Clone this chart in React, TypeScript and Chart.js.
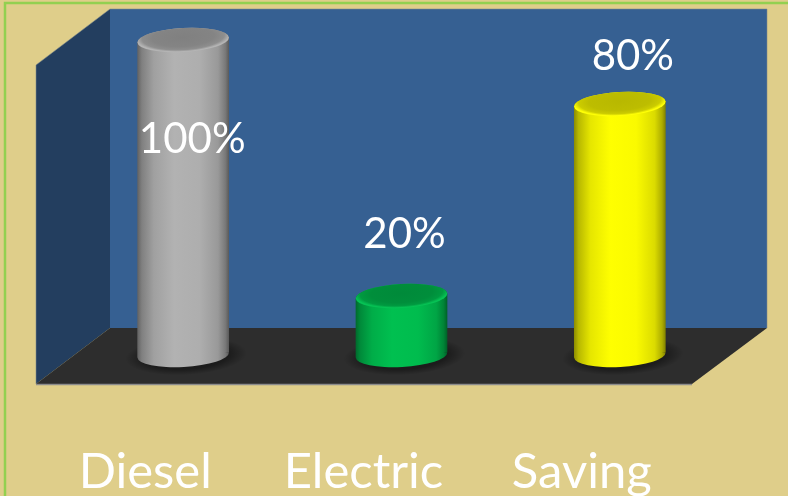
import React, { useEffect, useRef } from "react";
import { Chart, BarController, BarElement, CategoryScale, LinearScale } from "chart.js";

const categories = ["Diesel", "Electric", "Saving"];
const sharePercent = [100, 20, 80];
const barColors = ["#b2b2b2", "#00c050", "#ffff00"];

const PAGE_BG = "#dfce8a";
const FRAME = "#92d050";
const BACK_WALL = "#366092";
const SIDE_WALL = "#233e5f";
const FLOOR = "#2d2d2d";
const LABEL_FONT = "Lato";

const ROTATION = -0.055;
const END_RY = 12;
const BASE_LIFT = 5;

function shade(hex: string, k: number, add = 0) {
  const n = parseInt(hex.slice(1), 16);
  const c = [(n >> 16) & 255, (n >> 8) & 255, n & 255].map((v) =>
    Math.min(255, Math.round(v * k + add))
  );
  return `rgb(${c[0]},${c[1]},${c[2]})`;
}

class CylinderElement extends BarElement {
  static id = "cylinder";
  draw(ctx: CanvasRenderingContext2D) {
    const props = (this as any).getProps(["x", "y", "base", "width"]);
    const { x, y, width } = props;
    const base = props.base - BASE_LIFT;
    const color = (this as any).options.backgroundColor as string;
    const rx = width / 2;
    const d = 2.4;
    ctx.save();

    // soft contact shadow on the floor
    ctx.save();
    ctx.translate(x + 3, base + 1);
    ctx.rotate(ROTATION);
    ctx.scale(rx + 15, END_RY + 7);
    const sg = ctx.createRadialGradient(0, 0, 0, 0, 0, 1);
    sg.addColorStop(0, "rgba(0,0,0,0.42)");
    sg.addColorStop(0.7, "rgba(0,0,0,0.38)");
    sg.addColorStop(1, "rgba(0,0,0,0)");
    ctx.fillStyle = sg;
    ctx.beginPath();
    ctx.arc(0, 0, 1, 0, Math.PI * 2);
    ctx.fill();
    ctx.restore();

    // body
    const grad = ctx.createLinearGradient(x - rx, 0, x + rx, 0);
    grad.addColorStop(0, shade(color, 0.55));
    grad.addColorStop(0.05, shade(color, 0.72));
    grad.addColorStop(0.18, shade(color, 0.9));
    grad.addColorStop(0.4, shade(color, 1));
    grad.addColorStop(0.68, shade(color, 0.98));
    grad.addColorStop(0.88, shade(color, 0.86));
    grad.addColorStop(0.96, shade(color, 0.68));
    grad.addColorStop(1, shade(color, 0.5));
    ctx.fillStyle = grad;
    ctx.beginPath();
    ctx.moveTo(x - rx, y + d);
    ctx.lineTo(x + rx, y - d);
    ctx.lineTo(x + rx, base - d);
    ctx.lineTo(x - rx, base + d);
    ctx.closePath();
    ctx.moveTo(x + rx, base);
    ctx.ellipse(x, base, rx, END_RY, ROTATION, 0, Math.PI * 2);
    ctx.moveTo(x + rx, y);
    ctx.ellipse(x, y, rx, END_RY, ROTATION, 0, Math.PI * 2);
    ctx.fill();

    // bevelled top face: the rim only catches light along its lower edge
    ctx.save();
    ctx.beginPath();
    ctx.ellipse(x, y, rx, END_RY, ROTATION, 0, Math.PI * 2);
    ctx.clip();
    ctx.translate(x, y - 3);
    ctx.rotate(ROTATION);
    ctx.scale(rx * 1.02, END_RY + 2.5);
    const tg = ctx.createRadialGradient(0, 0, 0, 0, 0, 1);
    tg.addColorStop(0, shade(color, 0.72));
    tg.addColorStop(0.66, shade(color, 0.74));
    tg.addColorStop(0.88, shade(color, 0.8));
    tg.addColorStop(1, shade(color, 0.98, 6));
    ctx.fillStyle = tg;
    ctx.fillRect(-1.2, -1.4, 2.4, 2.8);
    ctx.restore();

    ctx.restore();
  }
}

class CylinderController extends BarController {
  static id = "cylinderBar";
  static defaults = { ...BarController.defaults, dataElementType: "cylinder" };
}

Chart.register(CylinderController, CylinderElement, BarController, BarElement, CategoryScale, LinearScale);

const stagePlugin = {
  id: "stage",
  beforeDraw(chart: any) {
    const { ctx, width, height } = chart;
    ctx.save();
    ctx.fillStyle = PAGE_BG;
    ctx.fillRect(0, 0, width, height);
    ctx.strokeStyle = FRAME;
    ctx.lineWidth = 2.5;
    ctx.beginPath();
    ctx.moveTo(width, 3);
    ctx.lineTo(5, 3);
    ctx.lineTo(5, height);
    ctx.stroke();

    ctx.fillStyle = BACK_WALL;
    ctx.fillRect(110, 9, 657, 319);

    ctx.fillStyle = SIDE_WALL;
    ctx.beginPath();
    ctx.moveTo(36, 65);
    ctx.lineTo(110, 9);
    ctx.lineTo(110, 328);
    ctx.lineTo(36, 384);
    ctx.closePath();
    ctx.fill();

    ctx.fillStyle = FLOOR;
    ctx.beginPath();
    ctx.moveTo(36, 384);
    ctx.lineTo(110, 328);
    ctx.lineTo(767, 328);
    ctx.lineTo(692, 384);
    ctx.closePath();
    ctx.fill();

    ctx.strokeStyle = "#8c8c8c";
    ctx.lineWidth = 1.5;
    ctx.beginPath();
    ctx.moveTo(36, 384.5);
    ctx.lineTo(692, 384.5);
    ctx.stroke();

    ctx.strokeStyle = "rgba(130,140,140,0.55)";
    ctx.lineWidth = 1;
    ctx.beginPath();
    ctx.moveTo(36, 384);
    ctx.lineTo(36, 65);
    ctx.lineTo(110, 9);
    ctx.lineTo(767, 9);
    ctx.lineTo(767, 328);
    ctx.stroke();
    ctx.restore();
  },
};

const labelShift = [
  [9, 99],
  [3, -62],
  [13, -48],
];

const valueLabelPlugin = {
  id: "valueLabels",
  afterDatasetsDraw(chart: any) {
    const { ctx } = chart;
    const meta = chart.getDatasetMeta(0);
    ctx.save();
    ctx.fillStyle = "#ffffff";
    ctx.font = `42px ${LABEL_FONT}`;
    ctx.textAlign = "center";
    ctx.textBaseline = "middle";
    meta.data.forEach((bar: any, i: number) => {
      ctx.fillText(`${sharePercent[i]}%`, bar.x + labelShift[i][0], bar.y + labelShift[i][1]);
    });
    ctx.restore();
  },
};

export default function App() {
  const ref = useRef<HTMLCanvasElement>(null);
  useEffect(() => {
    const chart = new Chart(ref.current!, {
      type: "cylinderBar" as any,
      data: {
        labels: categories,
        datasets: [
          {
            data: sharePercent,
            backgroundColor: barColors,
            barPercentage: 0.42,
            categoryPercentage: 1,
            clip: false as any,
          },
        ],
      },
      options: {
        responsive: false,
        animation: false,
        devicePixelRatio: 1,
        layout: { padding: { left: 74, right: 59, top: 40, bottom: 0 } },
        plugins: { legend: { display: false }, tooltip: { enabled: false } },
        scales: {
          x: {
            type: "category",
            offset: true,
            border: { display: false },
            grid: { display: false },
            afterFit: (s: any) => {
              s.height = 136;
            },
            ticks: {
              color: "#ffffff",
              font: { family: LABEL_FONT, size: 49 },
              padding: 75,
              labelOffset: -38,
              maxRotation: 0,
              autoSkip: false,
            },
          },
          y: { type: "linear", display: false, min: 0, max: 100 },
        },
      },
      plugins: [stagePlugin, valueLabelPlugin],
    } as any);
    return () => chart.destroy();
  }, []);
  return (
    <div style={{ position: "fixed", left: 0, top: 0, width: 788, height: 496 }}>
      <canvas ref={ref} width={788} height={496} style={{ display: "block" }} />
    </div>
  );
}
